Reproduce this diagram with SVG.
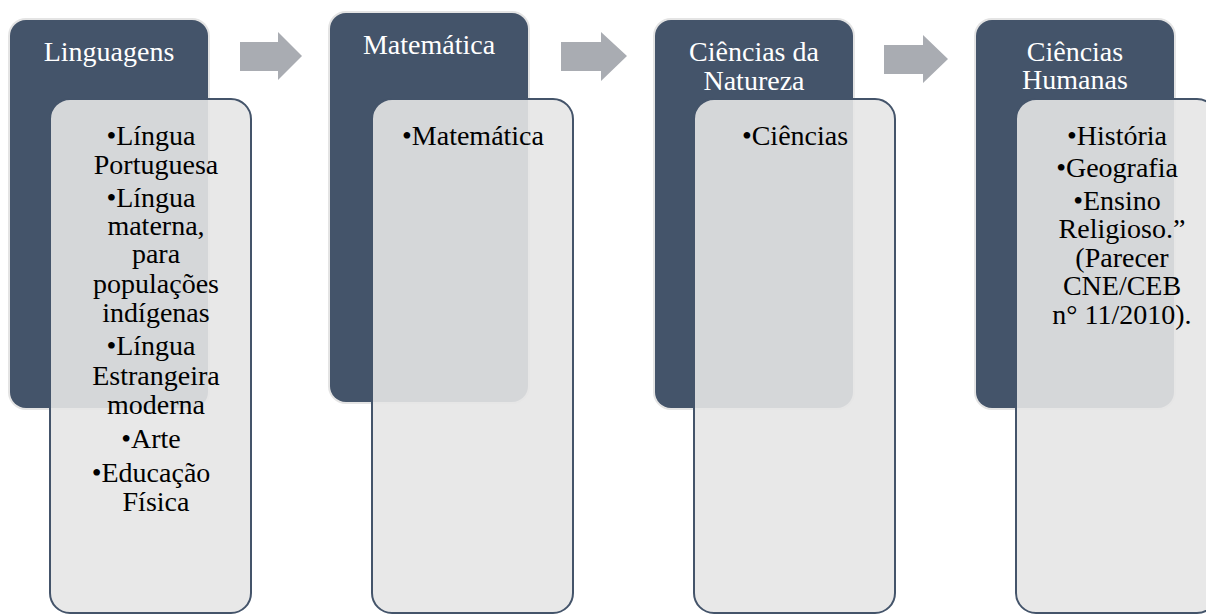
<svg xmlns="http://www.w3.org/2000/svg" width="1206" height="615" viewBox="0 0 1206 615">
  <style>
    .halo { fill: #e4e4e4; }
    .head { fill: #44546a; }
    .body { fill: #e6e6e6; fill-opacity: 0.9; stroke: #44546a; stroke-width: 2; }
    .arrow { fill: #a9acb2; }
    .t { font-family: "Liberation Serif", "Times New Roman", serif; font-size: 28px; text-anchor: middle; }
    .ht { fill: #ffffff; }
    .bt { fill: #000000; }
  </style>
  <rect width="1206" height="615" fill="#ffffff"/>

  <!-- flow arrows between columns -->
  <g id="connectors">
    <polygon class="arrow" points="240,42 278,42 278,32 302,56 278,80 278,71 240,71"/>
    <polygon class="arrow" points="561,42 601,42 601,32 627,56 601,81 601,71 561,71"/>
    <polygon class="arrow" points="884,45 923,45 923,35 948,59 923,83 923,74 884,74"/>
  </g>

  <!-- column 1 -->
  <g id="linguagens">
    <rect class="halo" x="8" y="18" width="202" height="392" rx="18"/>
    <rect class="head" x="10" y="20" width="198" height="388" rx="16"/>
    <text class="t ht" x="109" y="61">Linguagens</text>
    <rect class="body" x="50" y="99" width="201" height="514" rx="20"/>
    <text class="t bt" x="151" y="145">•Língua</text>
    <text class="t bt" x="156" y="174">Portuguesa</text>
    <text class="t bt" x="151" y="207">•Língua</text>
    <text class="t bt" x="156" y="235">materna,</text>
    <text class="t bt" x="156" y="263">para</text>
    <text class="t bt" x="156" y="293">populações</text>
    <text class="t bt" x="156" y="322">indígenas</text>
    <text class="t bt" x="151" y="355">•Língua</text>
    <text class="t bt" x="156" y="385">Estrangeira</text>
    <text class="t bt" x="156" y="414">moderna</text>
    <text class="t bt" x="151" y="448">•Arte</text>
    <text class="t bt" x="151" y="482">•Educação</text>
    <text class="t bt" x="156" y="511">Física</text>
  </g>

  <!-- column 2 -->
  <g id="matematica">
    <rect class="halo" x="328" y="11" width="202" height="393" rx="18"/>
    <rect class="head" x="330" y="13" width="198" height="389" rx="16"/>
    <text class="t ht" x="429" y="54">Matemática</text>
    <rect class="body" x="372" y="99" width="201" height="514" rx="20"/>
    <text class="t bt" x="473" y="145">•Matemática</text>
  </g>

  <!-- column 3 -->
  <g id="ciencias-natureza">
    <rect class="halo" x="653" y="18" width="202" height="392" rx="18"/>
    <rect class="head" x="655" y="20" width="198" height="388" rx="16"/>
    <text class="t ht" x="754" y="61">Ciências da</text>
    <text class="t ht" x="754" y="90">Natureza</text>
    <rect class="body" x="694" y="99" width="201" height="514" rx="20"/>
    <text class="t bt" x="795" y="145">•Ciências</text>
  </g>

  <!-- column 4 -->
  <g id="ciencias-humanas">
    <rect class="halo" x="974" y="18" width="202" height="392" rx="18"/>
    <rect class="head" x="976" y="20" width="198" height="388" rx="16"/>
    <text class="t ht" x="1075" y="61">Ciências</text>
    <text class="t ht" x="1075" y="89">Humanas</text>
    <rect class="body" x="1016" y="99" width="201" height="514" rx="20"/>
    <text class="t bt" x="1117" y="145">•História</text>
    <text class="t bt" x="1117" y="177">•Geografia</text>
    <text class="t bt" x="1117" y="210">•Ensino</text>
    <text class="t bt" x="1122" y="238">Religioso.”</text>
    <text class="t bt" x="1122" y="267">(Parecer</text>
    <text class="t bt" x="1122" y="295">CNE/CEB</text>
    <text class="t bt" x="1122" y="324">n° 11/2010).</text>
  </g>
</svg>
